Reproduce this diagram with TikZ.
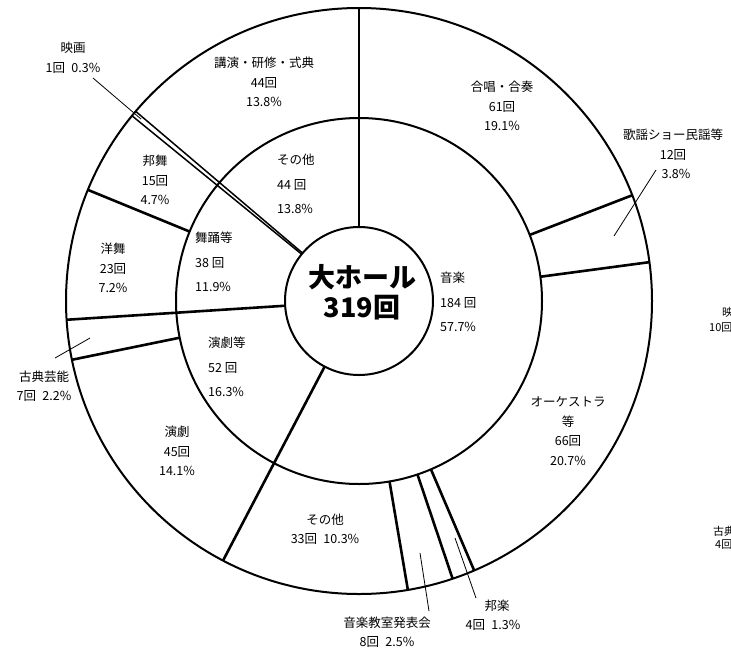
\documentclass[tikz,border=0pt]{standalone}
\usepackage{fontspec}
\setmainfont{Noto Sans CJK JP}
\usetikzlibrary{calc}
\tikzset{
  ring/.style={line width=2pt},
  radial/.style={line width=2.6pt},
  thinwedge/.style={line width=1.5pt},
  leader/.style={line width=0.8pt},
  lbl/.style={font=\fontsize{12.5}{19.5}\selectfont, align=center, inner sep=0pt},
  inlbl/.style={font=\fontsize{12.5}{24.5}\selectfont, align=left, anchor=west, inner sep=0pt},
  edgelbl/.style={font=\fontsize{11}{14}\selectfont, anchor=west, inner sep=0pt},
  titlelbl/.style={font=\bfseries\fontsize{27}{31}\selectfont, inner sep=0pt}
}
\begin{document}
\begin{tikzpicture}[x=1pt,y=-1pt]
\useasboundingbox (0,0) rectangle (731,654);
\clip (0,0) rectangle (731,654);
\fill[white] (0,0) rectangle (731,654);
\coordinate (C) at (359,301);
% rings
\draw[ring] (C) circle[radius=293pt];
\draw[ring] (C) circle[radius=183pt];
\draw[ring] (C) circle[radius=74pt];
% radial lines through both rings
\foreach \a in {90, 242.35, 183.67}
  \draw[radial] ([shift={(\a:74pt)}]C) -- ([shift={(\a:293pt)}]C);
% radial lines in the outer ring only
\foreach \a in {21.16, 7.62, -66.86, -71.37, -80.40, 191.57, 157.71}
  \draw[radial] ([shift={(\a:183pt)}]C) -- ([shift={(\a:293pt)}]C);
% thin wedge (映画)
\foreach \a in {140.79, 139.66}
  \draw[thinwedge] ([shift={(\a:74pt)}]C) -- ([shift={(\a:293pt)}]C);

% centre
\node[titlelbl] (t1) at (362,277) {大ホール};
\node[titlelbl] (t2) at (362,308) {319回};

% inner ring labels
\node[inlbl] (sonota1) at (277,184) {その他\\44 回\\13.8\%};
\node[inlbl] (buyo) at (195,262) {舞踊等\\38 回\\11.9\%};
\node[inlbl] (ongaku) at (440,302) {音楽\\184 回\\57.7\%};
\node[inlbl] (engekit) at (208,367) {演劇等\\52 回\\16.3\%};

% outer ring labels
\node[lbl] (eiga) at (73,58) {映画\\1回\enspace 0.3\%};
\node[lbl] (koen) at (264,82) {講演・研修・式典\\44回\\13.8\%};
\node[lbl] (gassho) at (502,106) {合唱・合奏\\61回\\19.1\%};
\node[lbl] (kayo) at (673,154) {歌謡ショー民謡等\\12回\\\hspace*{6pt}3.8\%};
\node[lbl] (hobu) at (155,180) {邦舞\\15回\\4.7\%};
\node[lbl] (yobu) at (113,268) {洋舞\\23回\\7.2\%};
\node[lbl] (koten) at (44,386) {古典芸能\\7回\enspace 2.2\%};
\node[lbl] (engeki) at (177,451) {演劇\\45回\\14.1\%};
\node[lbl] (sonota2) at (325,529) {その他\\33回\enspace 10.3\%};
\node[lbl] (kyoshitsu) at (387,632) {音楽教室発表会\\8回\enspace 2.5\%};
\node[lbl] (hogaku) at (493,615) {\hspace*{8pt}邦楽\\4回\enspace 1.3\%};
\node[lbl] (orch) at (568,431) {オーケストラ\\等\\66回\\20.7\%};

% leader lines
\coordinate (eigaA) at (93,78);   \coordinate (eigaB) at (141,119);
\coordinate (kayoA) at (656,170); \coordinate (kayoB) at (614,236);
\coordinate (kotenA) at (90,338); \coordinate (kotenB) at (55,358);
\coordinate (kyoA) at (420,553);  \coordinate (kyoB) at (429,611);
\coordinate (hogA) at (455,538);  \coordinate (hogB) at (476,598);
\draw[leader] (eigaA) -- (eigaB);
\draw[leader] (kayoA) -- (kayoB);
\draw[leader] (kotenA) -- (kotenB);
\draw[leader] (kyoA) -- (kyoB);
\draw[leader] (hogA) -- (hogB);

% cut-off labels at the right edge
\node[edgelbl] (r1) at (722,312) {映};
\node[edgelbl] (r2) at (709,328) {10回};
\node[edgelbl] (r3) at (713,531) {古典};
\node[edgelbl] (r4) at (715,545) {4回};
\end{tikzpicture}
\end{document}
